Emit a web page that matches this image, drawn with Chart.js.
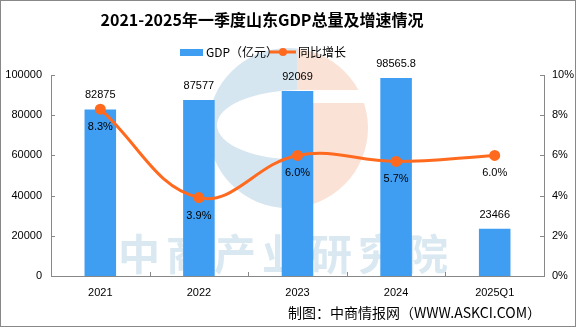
<!DOCTYPE html>
<html>
<head>
<meta charset="utf-8">
<script src="https://cdn.jsdelivr.net/npm/chart.js@4"></script>
<style>
  html, body { margin: 0; padding: 0; background: #fff; }
  #wrap { width: 576px; height: 327px; }
</style>
</head>
<body>
<div id="wrap"><canvas id="gdp"></canvas></div>
<script>
const years = ['2021', '2022', '2023', '2024', '2025Q1'];
const gdp = [82875, 87577, 92069, 98565.8, 23466];
const growth = [8.3, 3.9, 6.0, 5.7, 6.0];
const gdpLabel = 'GDP（亿元）';
const growthLabel = '同比增长';

const blue = '#3F9DF2';
const orange = '#FF6A1F';
const axisGrey = '#888';
const numFont = '11px "Liberation Sans", sans-serif';

// watermark, title, legend, labels, inward ticks, frame
const decor = {
  id: 'decor',
  beforeDatasetsDraw(chart) {
    const c = chart.ctx;
    c.save();
    // logo
    const cx = 288, cy = 128, r = 80;
    c.save();
    c.beginPath(); c.rect(0, 0, 297, 327); c.clip();
    c.fillStyle = '#d6e6f0';
    c.beginPath(); c.arc(cx, cy, r, 0, Math.PI * 2); c.fill();
    c.fillStyle = '#fff';
    c.beginPath(); c.ellipse(300, 125, 83, 35, 0, 0, Math.PI * 2); c.fill();
    c.restore();
    c.save();
    c.beginPath(); c.rect(297, 0, 200, 327); c.clip();
    c.fillStyle = '#fbe2d7';
    c.beginPath(); c.arc(cx, cy, r, 0, Math.PI * 2); c.fill();
    c.fillStyle = '#fff';
    c.fillRect(297, 90, 100, 13);
    c.restore();
    c.fillStyle = '#d6e6f0';
    c.fillRect(282, 160, 15, 48);
    // watermark text
    c.fillStyle = '#d9e8f1';
    c.font = 'bold 42px "Noto Sans CJK SC", sans-serif';
    c.textAlign = 'left';
    c.textBaseline = 'middle';
    if ('letterSpacing' in c) c.letterSpacing = '6px';
    c.fillText('中商产业研究院', 118, 254);
    c.restore();
  },
  afterDraw(chart) {
    const c = chart.ctx;
    const x = chart.scales.x, y = chart.scales.y, y1 = chart.scales.y1;
    const area = chart.chartArea;
    c.save();

    // inward tick marks
    c.strokeStyle = axisGrey;
    c.lineWidth = 1;
    c.beginPath();
    y.ticks.forEach(t => {
      const py = Math.round(y.getPixelForValue(t.value)) + 0.5;
      c.moveTo(area.left, py); c.lineTo(area.left + 4, py);
    });
    y1.ticks.forEach(t => {
      const py = Math.round(y1.getPixelForValue(t.value)) + 0.5;
      c.moveTo(area.right, py); c.lineTo(area.right - 4, py);
    });
    for (let i = 0; i < years.length - 1; i++) {
      const px = Math.round((x.getPixelForValue(i) + x.getPixelForValue(i + 1)) / 2) + 0.5;
      c.moveTo(px, area.bottom); c.lineTo(px, area.bottom - 4);
    }
    c.stroke();

    // value labels
    c.fillStyle = '#000';
    c.font = numFont;
    c.textAlign = 'center';
    c.textBaseline = 'middle';
    chart.getDatasetMeta(1).data.forEach((bar, i) => {
      c.fillText(String(gdp[i]), bar.x, bar.y - 14);
    });
    chart.getDatasetMeta(0).data.forEach((pt, i) => {
      c.fillText(growth[i].toFixed(1) + '%', pt.x, pt.y + 18);
    });

    // title
    c.font = 'bold 16px "Noto Sans CJK SC", sans-serif';
    c.fillText('2021-2025年一季度山东GDP总量及增速情况', 262, 20);

    // legend
    c.fillStyle = blue;
    c.fillRect(180, 49, 23, 7);
    c.fillStyle = '#000';
    c.font = '12px "Noto Sans CJK SC", sans-serif';
    c.textAlign = 'left';
    c.fillText(gdpLabel, 206, 52);
    c.strokeStyle = orange;
    c.lineWidth = 3;
    c.beginPath(); c.moveTo(270, 52); c.lineTo(296, 52); c.stroke();
    c.fillStyle = orange;
    c.beginPath(); c.arc(283, 52, 4, 0, Math.PI * 2); c.fill();
    c.fillStyle = '#000';
    c.fillText(growthLabel, 298, 52);

    // source
    c.font = '14px "Noto Sans CJK SC", sans-serif';
    c.fillText('制图：中商情报网（WWW.ASKCI.COM）', 288, 313);

    // frame
    c.strokeStyle = axisGrey;
    c.lineWidth = 1;
    c.strokeRect(0.5, 0.5, chart.width - 1, chart.height - 1);
    c.restore();
  }
};

new Chart(document.getElementById('gdp'), {
  type: 'bar',
  data: {
    labels: years,
    datasets: [
      {
        label: growthLabel,
        type: 'line',
        data: growth,
        yAxisID: 'y1',
        borderColor: orange,
        backgroundColor: orange,
        borderWidth: 3,
        pointRadius: 4,
        pointHoverRadius: 4,
        tension: 0.4,
        order: 1
      },
      {
        label: gdpLabel,
        data: gdp,
        yAxisID: 'y',
        backgroundColor: blue,
        barPercentage: 0.32,
        categoryPercentage: 1,
        order: 2
      }
    ]
  },
  options: {
    responsive: true,
    maintainAspectRatio: false,
    animation: false,
    layout: { padding: { top: 75, left: 0, right: 0, bottom: 0 } },
    plugins: {
      legend: { display: false },
      title: { display: false },
      tooltip: { enabled: false }
    },
    scales: {
      x: {
        grid: { display: false, drawTicks: false },
        border: { display: true, color: axisGrey },
        ticks: { color: '#000', font: { family: 'Liberation Sans', size: 11 }, padding: 10 },
        afterFit: s => { s.height = 51; }
      },
      y: {
        position: 'left',
        min: 0,
        max: 100000,
        grid: { display: false, drawTicks: false },
        border: { display: true, color: axisGrey },
        ticks: { stepSize: 20000, color: '#000', font: { family: 'Liberation Sans', size: 11 }, padding: 9, callback: v => String(v) },
        afterFit: s => { s.width = 51; }
      },
      y1: {
        position: 'right',
        min: 0,
        max: 10,
        grid: { display: false, drawTicks: false },
        border: { display: true, color: axisGrey },
        ticks: { stepSize: 2, color: '#000', font: { family: 'Liberation Sans', size: 11 }, padding: 8, callback: v => v + '%' },
        afterFit: s => { s.width = 32; }
      }
    }
  },
  plugins: [decor]
});
</script>
</body>
</html>
